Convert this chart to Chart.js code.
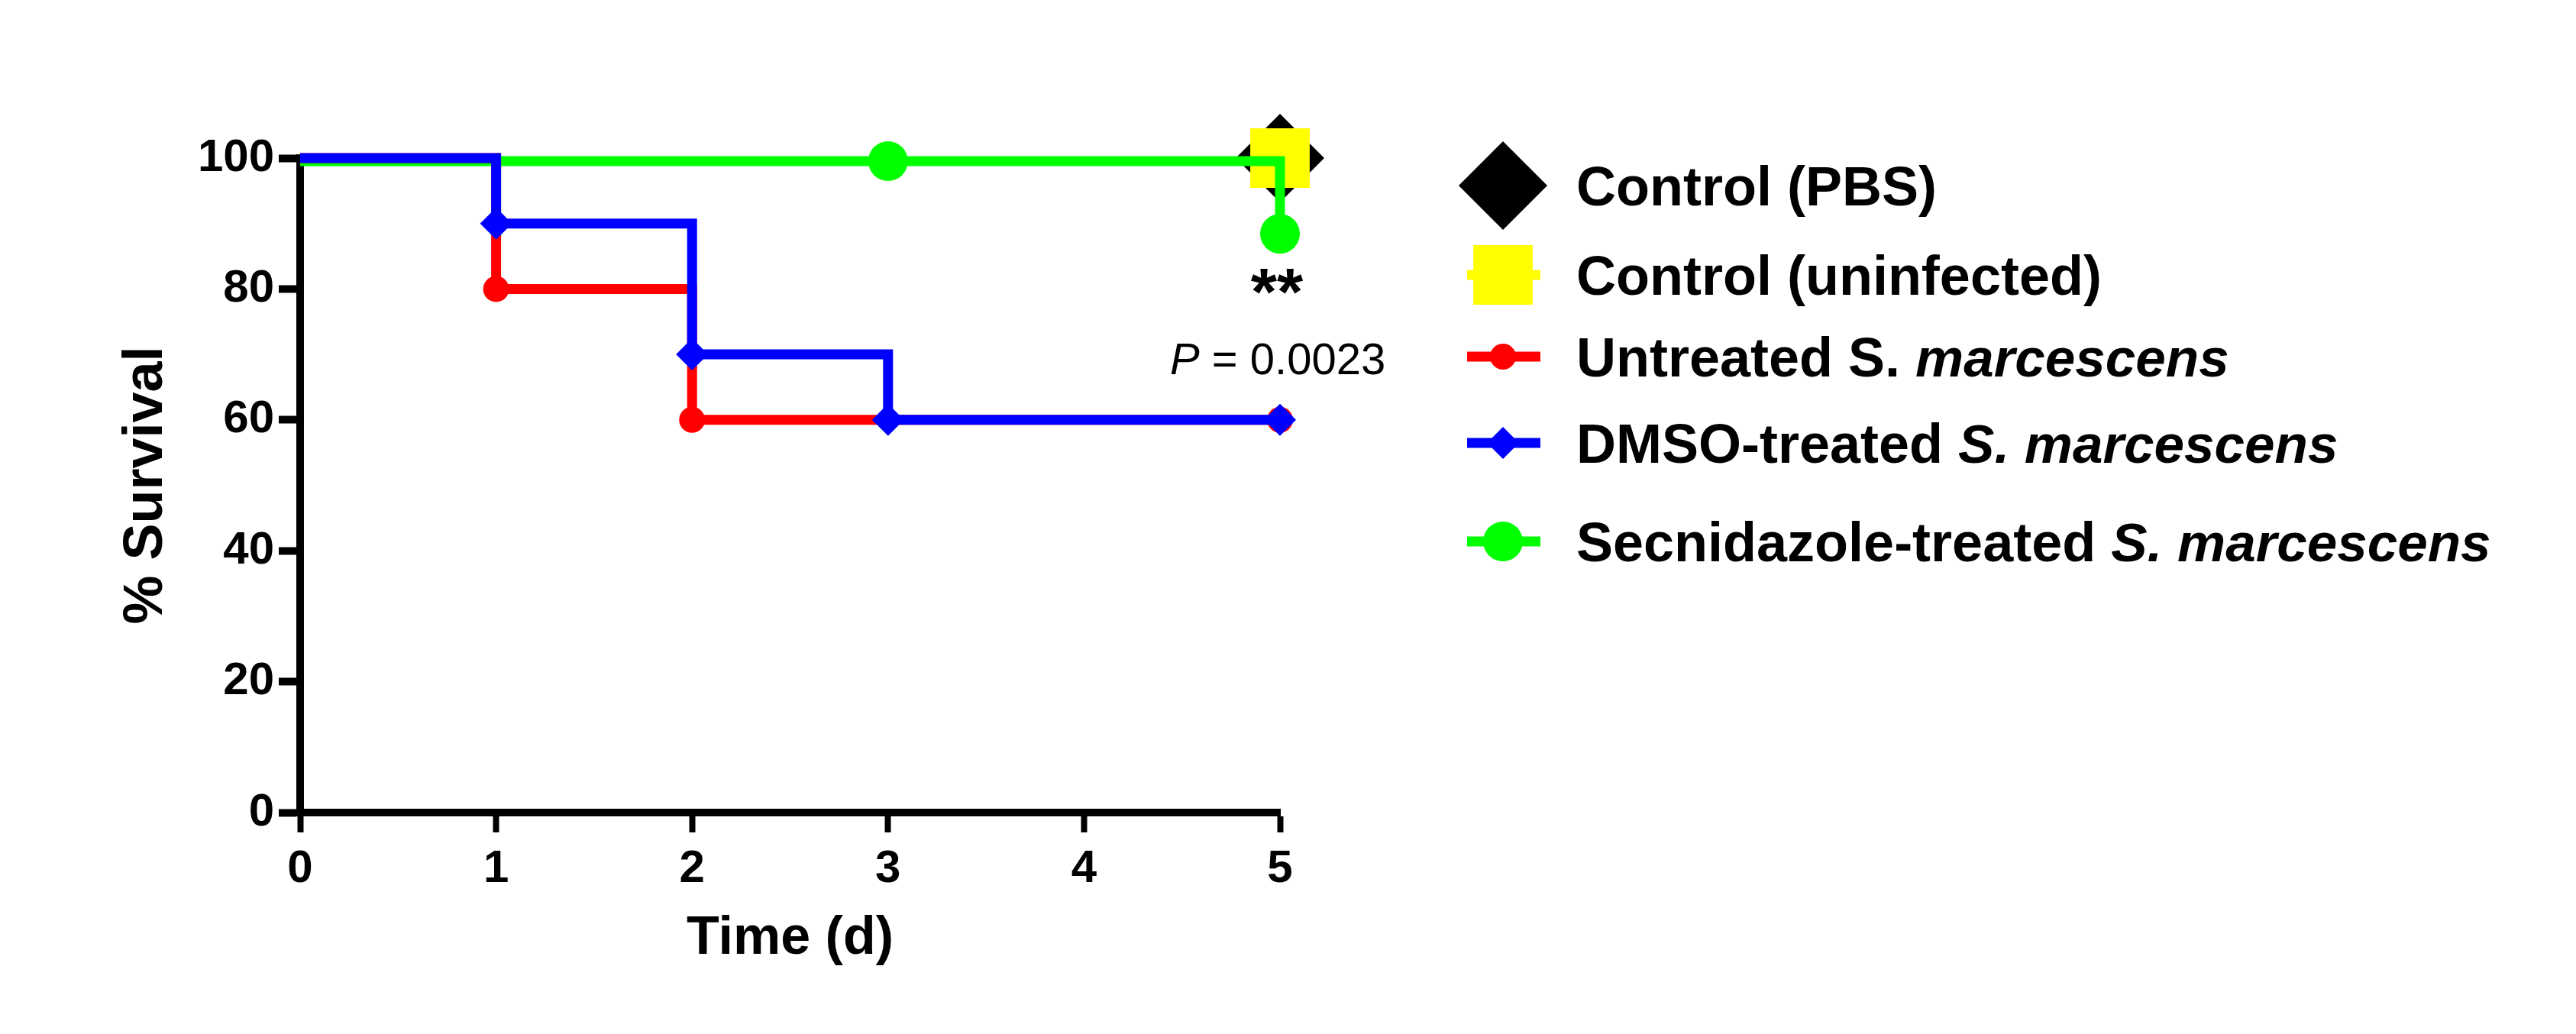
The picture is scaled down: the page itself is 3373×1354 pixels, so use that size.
<!DOCTYPE html>
<html>
<head>
<meta charset="utf-8">
<script src="https://cdn.jsdelivr.net/npm/chart.js@4.4.1/dist/chart.umd.min.js"></script>
<style>
  html, body { margin: 0; padding: 0; background: #fff; }
  canvas { display: block; }
</style>
</head>
<body>
<canvas id="survival" width="3373" height="1354" style="width:3373px;height:1354px"></canvas>
<script>
// Kaplan-Meier survival, values
const timeTicks = [0, 1, 2, 3, 4, 5];
const survivalTicks = [0, 20, 40, 60, 80, 100];

const pbsDays = [5];
const pbsSurvival = [100];
const uninfectedDays = [5];
const uninfectedSurvival = [100];
const untreatedDays = [0, 1, 2, 5];
const untreatedSurvival = [100, 80, 60, 60];
const dmsoDays = [0, 1, 2, 3, 5];
const dmsoSurvival = [100, 90, 70, 60, 60];
const secnidazoleDays = [0, 3, 5];
const secnidazoleSurvival = [100, 100, 88.9];

// legend text pieces: [text, italic]
const legendLabels = [
  [["Control (PBS)", false]],
  [["Control (uninfected)", false]],
  [["Untreated S. ", false], ["marcescens", true]],
  [["DMSO-treated ", false], ["S. marcescens", true]],
  [["Secnidazole-treated ", false], ["S. marcescens", true]],
];
const pValueText = "0.0023";
const starsText = "**";

const FONT = "'Liberation Sans', Arial, Helvetica, sans-serif";

function pts(xs, ys) { return xs.map((x, i) => ({ x: x, y: ys[i] })); }
function radii(xs, r) { return xs.map((x) => (x === 0 ? 0 : r)); }

const series = [
  { color: "#000000", style: "rectRot", r: 58, line: false, data: pts(pbsDays, pbsSurvival), order: 5 },
  { color: "#ffff00", style: "rect", r: 55, line: true, data: pts(uninfectedDays, uninfectedSurvival), order: 4 },
  { color: "#ff0000", style: "circle", r: 17, line: true, data: pts(untreatedDays, untreatedSurvival), order: 2 },
  { color: "#0000ff", style: "rectRot", r: 21, line: true, data: pts(dmsoDays, dmsoSurvival), order: 1 },
  { color: "#00ff00", style: "circle", r: 26, line: true, data: pts(secnidazoleDays, secnidazoleSurvival), order: 3, nudge: 4 },
];

// the green curve sits a hair below the blue one where they overlap
const nudge = {
  id: "nudge",
  beforeDatasetDraw(chart, args) {
    const n = series[args.index].nudge;
    chart.ctx.save();
    if (n) chart.ctx.translate(0, n);
  },
  afterDatasetDraw(chart) { chart.ctx.restore(); },
};

// custom legend + annotations
const extras = {
  id: "extras",
  afterDraw(chart) {
    const ctx = chart.ctx;
    const xs = chart.scales.x, ys = chart.scales.y;
    ctx.save();

    // legend
    const rowY = [243, 360, 467, 580, 709];
    const markX = 1968, textX = 2064;
    series.forEach((s, i) => {
      const y = rowY[i];
      ctx.fillStyle = s.color;
      ctx.strokeStyle = s.color;
      if (s.line) {
        ctx.lineWidth = 13;
        ctx.lineCap = "butt";
        ctx.beginPath();
        ctx.moveTo(1921, y);
        ctx.lineTo(2017, y);
        ctx.stroke();
      }
      Chart.helpers.drawPoint(ctx, { pointStyle: s.style, radius: s.r, rotation: 0, borderWidth: 0 }, markX, y);

      ctx.fillStyle = "#000";
      ctx.textBaseline = "alphabetic";
      ctx.textAlign = "left";
      let x = textX;
      legendLabels[i].forEach(([txt, it]) => {
        ctx.font = (it ? "italic bold 71px " : "bold 72px ") + FONT;
        ctx.fillText(txt, x, y + 26);
        x += ctx.measureText(txt).width;
      });
    });

    // significance marks next to the last time point
    const px = xs.getPixelForValue(5);
    const py = ys.getPixelForValue(secnidazoleSurvival[secnidazoleSurvival.length - 1]);
    ctx.fillStyle = "#000";
    ctx.textAlign = "center";
    ctx.font = "bold 88px " + FONT;
    ctx.fillText(starsText, px - 4, py + 110);

    ctx.textAlign = "left";
    let x = px - 144;
    const base = py + 188;
    ctx.font = "italic 58px " + FONT;
    ctx.fillText("P", x, base);
    x += ctx.measureText("P").width;
    ctx.font = "58px " + FONT;
    ctx.fillText(" = " + pValueText, x, base);

    ctx.restore();
  },
};

new Chart(document.getElementById("survival"), {
  type: "line",
  data: {
    datasets: series.map((s) => ({
      data: s.data,
      order: s.order,
      showLine: s.line,
      stepped: "before",
      borderColor: s.color,
      backgroundColor: s.color,
      borderWidth: 13,
      borderCapStyle: "butt",
      borderJoinStyle: "miter",
      pointStyle: s.style,
      pointRadius: radii(s.data.map((p) => p.x), s.r),
      pointBorderWidth: 0,
      pointBackgroundColor: s.color,
      pointHoverRadius: 0,
      fill: false,
      clip: false,
    })),
  },
  plugins: [nudge, extras],
  options: {
    responsive: false,
    animation: false,
    devicePixelRatio: 1,
    layout: { padding: { top: 207, right: 1697, left: 0, bottom: 0 } },
    plugins: { legend: { display: false }, tooltip: { enabled: false } },
    scales: {
      x: {
        type: "linear",
        min: 0, max: 5,
        afterBuildTicks: (s) => { s.ticks = timeTicks.map((v) => ({ value: v })); },
        afterFit: (s) => { s.height = 290; },
        border: { display: true, color: "#000", width: 10 },
        grid: { drawOnChartArea: false, drawTicks: true, tickLength: 26, tickWidth: 8, tickColor: "#000" },
        ticks: { color: "#000", padding: 12, font: { family: FONT, size: 60, weight: "bold" } },
        title: { display: true, text: "Time (d)", color: "#000", padding: { top: 0, bottom: 82 },
                 font: { family: FONT, size: 70, weight: "bold" } },
      },
      y: {
        min: 0, max: 100,
        afterBuildTicks: (s) => { s.ticks = survivalTicks.map((v) => ({ value: v })); },
        afterFit: (s) => { s.width = 393; },
        border: { display: true, color: "#000", width: 10 },
        grid: { drawOnChartArea: false, drawTicks: true, tickLength: 28, tickWidth: 10, tickColor: "#000" },
        ticks: { color: "#000", padding: 6, font: { family: FONT, size: 60, weight: "bold" } },
        title: { display: true, text: "% Survival", color: "#000", padding: { top: 149, bottom: 0 },
                 font: { family: FONT, size: 72, weight: "bold" } },
      },
    },
  },
});
</script>
</body>
</html>
